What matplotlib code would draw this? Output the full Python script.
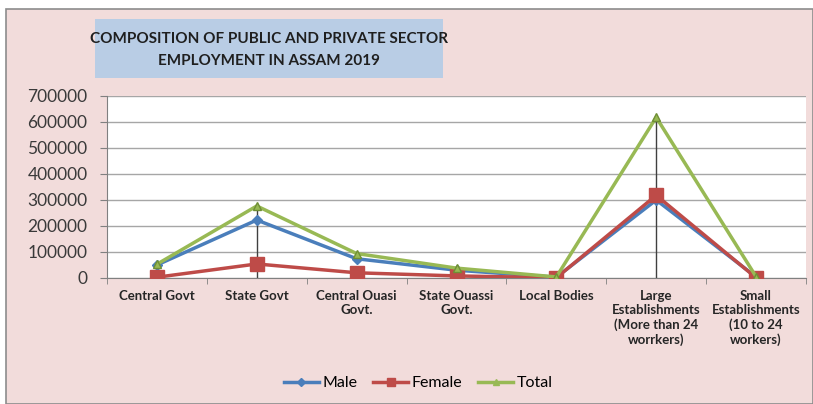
import matplotlib
matplotlib.use("Agg")
import matplotlib.pyplot as plt
from matplotlib.patches import Rectangle
from matplotlib.lines import Line2D
import numpy as np

categories = ["Central Govt", "State Govt", "Central Ouasi\nGovt.", "State Ouassi\nGovt.",
              "Local Bodies", "Large\nEstablishments\n(More than 24\nworrkers)",
              "Small\nEstablishments\n(10 to 24\nworkers)"]
male = [50000, 223000, 74000, 30000, 3000, 300000, 4000]
female = [3000, 54000, 20000, 8000, 1000, 318000, 1000]
total = [53000, 277000, 94000, 38000, 4000, 618000, 5000]
yticks = [0, 100000, 200000, 300000, 400000, 500000, 600000, 700000]
title = "COMPOSITION OF PUBLIC AND PRIVATE SECTOR\nEMPLOYMENT IN ASSAM 2019"

plt.rcParams['font.family'] = ['Lato', 'DejaVu Sans']

W, H = 813, 404
fig = plt.figure(figsize=(W / 100, H / 100), dpi=100)
fig.patch.set_facecolor("white")

# chart area frame
fig.patches.append(Rectangle((6 / W, 0), (W - 6) / W, (H - 9) / H, transform=fig.transFigure,
                             facecolor="#f2dcdb", edgecolor="#8c8c8c", linewidth=1.2, zorder=0))
# title box
fig.patches.append(Rectangle((95 / W, 1 - 78 / H), (443 - 95) / W, (78 - 19) / H,
                             transform=fig.transFigure, facecolor="#b9cde5",
                             edgecolor="none", zorder=1))
fig.text(269 / W, 1 - 50 / H, title, ha="center", va="center", fontsize=11,
         fontweight="bold", color="#1f1f1f", linespacing=1.8, zorder=2)

ax = fig.add_axes([107 / W, 1 - 278 / H, (806 - 107) / W, (278 - 96) / H])
ax.set_zorder(5)
ax.set_facecolor("white")
x = np.arange(len(categories))

# drop lines
for i in [0, 1, 5]:
    ax.vlines(x[i], 0, total[i], color="#404040", linewidth=1.0, zorder=2)

ax.plot(x, male, color="#4a7ebb", marker="D", markersize=5, linewidth=2.5, zorder=3, label="Male")
ax.plot(x, female, color="#be4b48", marker="s", markersize=10, linewidth=2.5, zorder=4, label="Female")
ax.plot(x, total, color="#98b954", marker="^", markersize=6, linewidth=2.5, zorder=5, label="Total",
        markeredgecolor="#6f8f35")

ax.set_xlim(-0.5, len(categories) - 0.5)
ax.set_ylim(0, 700000)
ax.set_yticks(yticks)
ax.set_yticklabels([str(v) for v in yticks], fontsize=12.5, color="#3a3a3a")
ax.yaxis.grid(True, color="#a6a6a6", linewidth=1.0)
ax.set_axisbelow(True)

ax.set_xticks(x)
ax.set_xticklabels(categories, fontsize=9.5, fontweight="bold", color="#262626", linespacing=1.2)
ax.tick_params(axis="x", length=0, pad=9)
ax.set_xticks(np.arange(-0.5, len(categories), 1), minor=True)
ax.tick_params(axis="x", which="minor", length=4, color="#808080")
ax.tick_params(axis="y", length=5, color="#808080", pad=9)

for s in ["top", "right"]:
    ax.spines[s].set_visible(False)
ax.spines["left"].set_color("#808080")
ax.spines["bottom"].set_color("#808080")

handles = [
    Line2D([], [], color="#4a7ebb", marker="D", markersize=4, linewidth=2.5),
    Line2D([], [], color="#be4b48", marker="s", markersize=6, linewidth=2.5),
    Line2D([], [], color="#98b954", marker="^", markersize=5, linewidth=2.5),
]
fig.legend(handles, ["Male", "Female", "Total"], loc="center", bbox_to_anchor=(418 / W, 1 - 383 / H),
           ncol=3, frameon=False, fontsize=11.5, handlelength=2.2, columnspacing=1.0,
           handletextpad=0.2)

fig.savefig("out.png", dpi=100, facecolor=fig.get_facecolor())
